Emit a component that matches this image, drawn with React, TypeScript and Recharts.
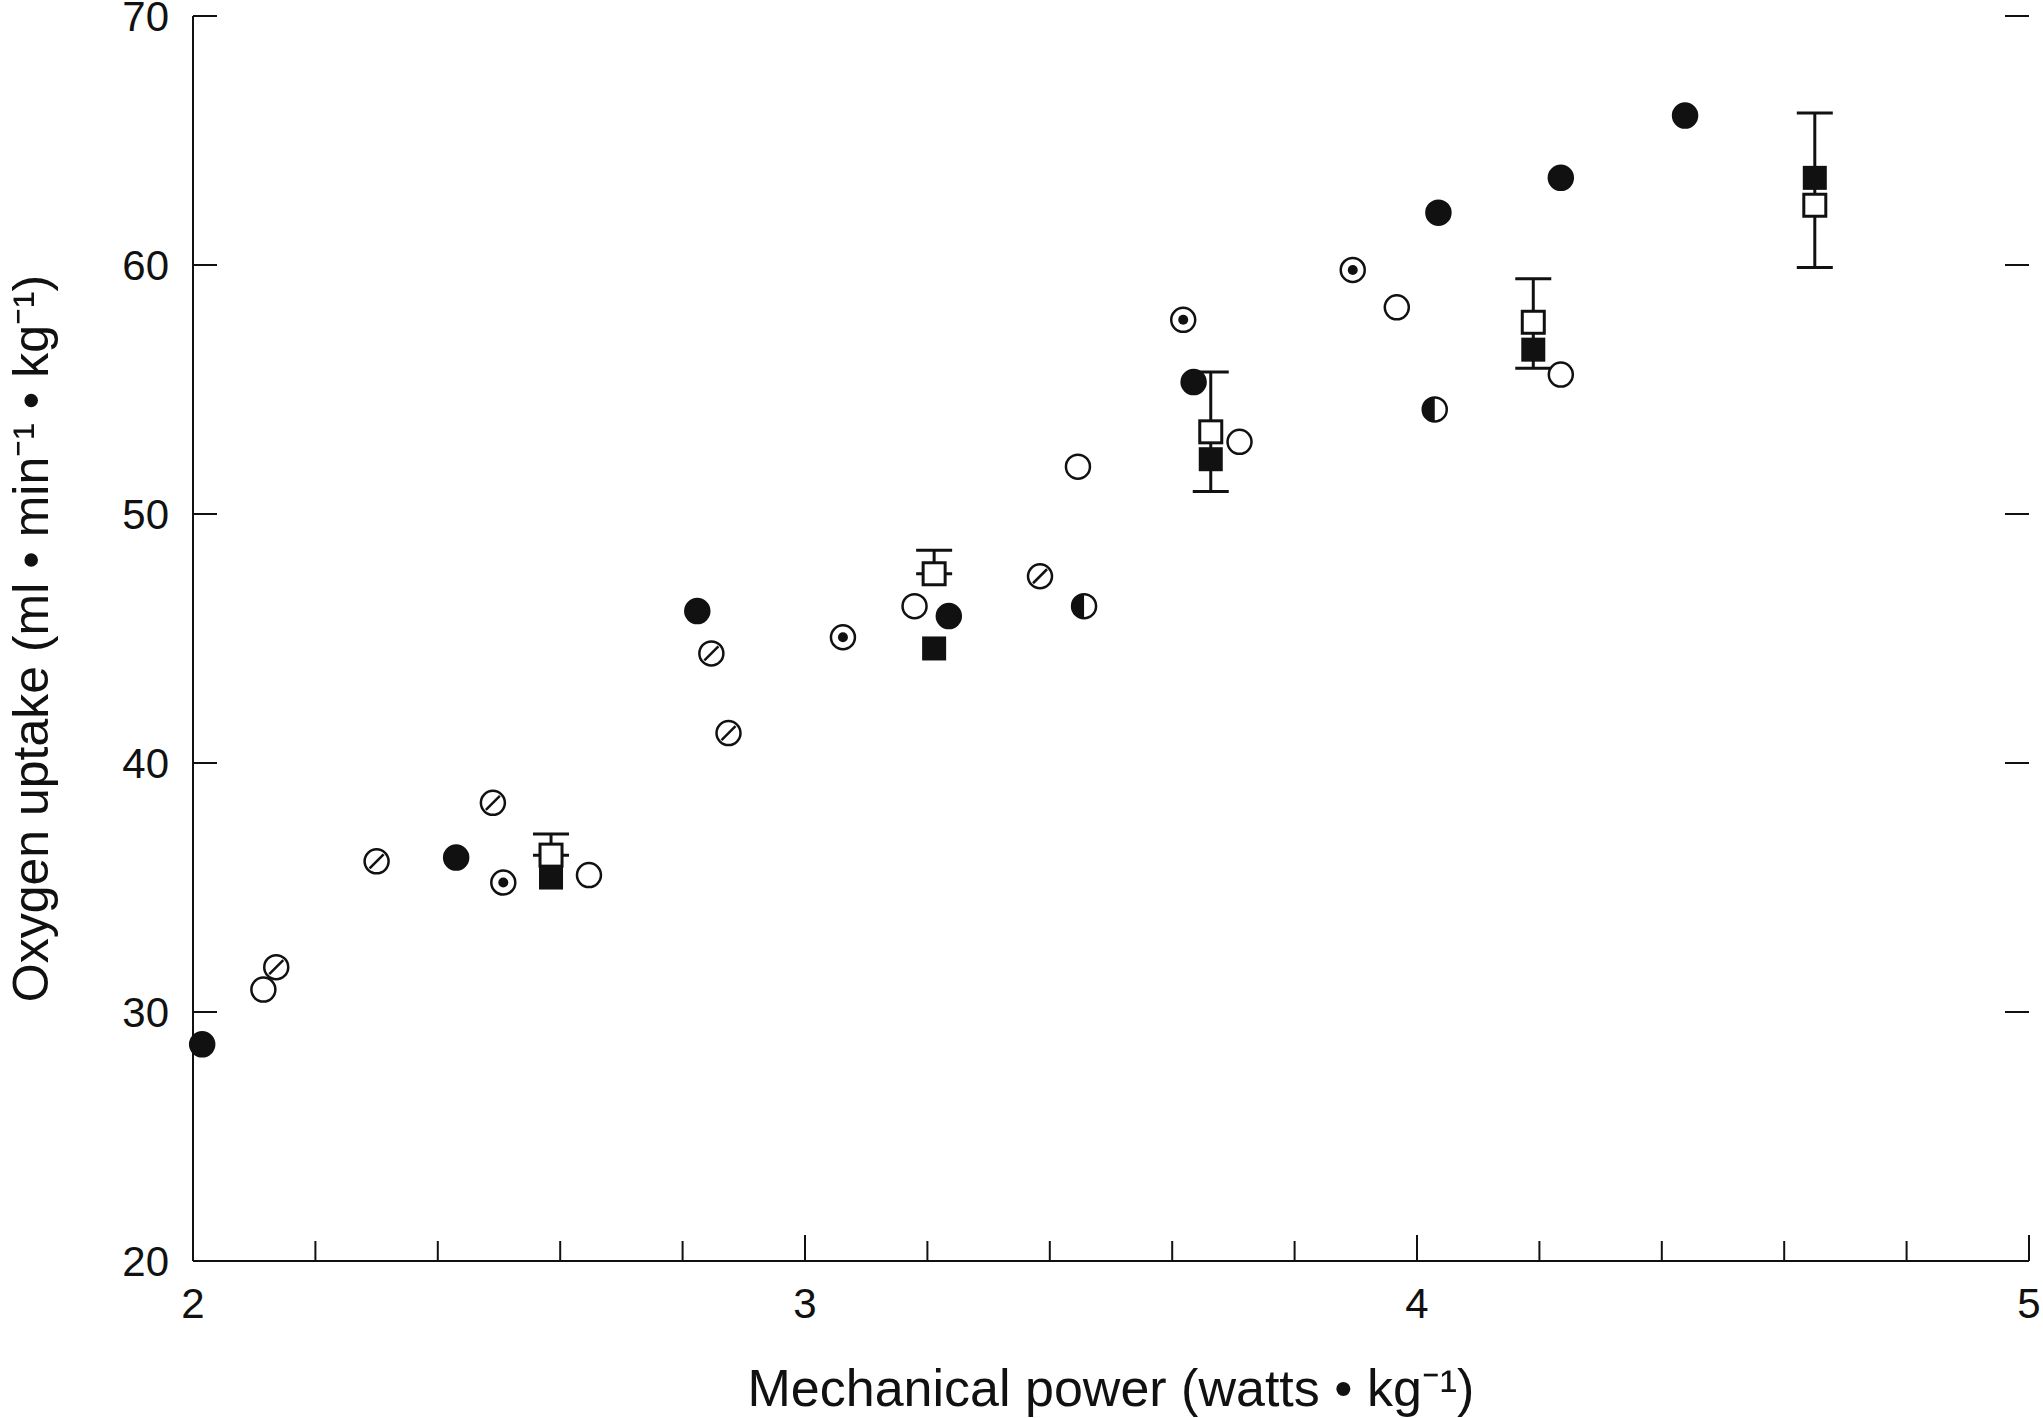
import { ScatterChart, Scatter, XAxis, YAxis, ErrorBar, Label } from "recharts";

const filledCircles = [
  { x: 2.015, y: 28.7 }, { x: 2.43, y: 36.2 }, { x: 2.824, y: 46.1 }, { x: 3.235, y: 45.9 },
  { x: 3.635, y: 55.3 }, { x: 4.035, y: 62.1 }, { x: 4.235, y: 63.5 }, { x: 4.438, y: 66.0 },
];
const openCircles = [
  { x: 2.115, y: 30.9 }, { x: 2.647, y: 35.5 }, { x: 3.179, y: 46.3 }, { x: 3.446, y: 51.9 },
  { x: 3.71, y: 52.9 }, { x: 3.967, y: 58.3 }, { x: 4.235, y: 55.6 },
];
const slashedCircles = [
  { x: 2.136, y: 31.8 }, { x: 2.3, y: 36.05 }, { x: 2.49, y: 38.4 }, { x: 2.847, y: 44.4 },
  { x: 2.875, y: 41.2 }, { x: 3.384, y: 47.5 },
];
const dottedCircles = [
  { x: 2.507, y: 35.2 }, { x: 3.062, y: 45.05 }, { x: 3.618, y: 57.8 }, { x: 3.895, y: 59.8 },
];
const halfCircles = [{ x: 3.456, y: 46.3 }, { x: 4.029, y: 54.2 }];
const filledSquares = [
  { x: 2.585, y: 35.4 }, { x: 3.211, y: 44.6 }, { x: 3.663, y: 52.2 }, { x: 4.19, y: 56.6 }, { x: 4.65, y: 63.5 },
];
const openSquares = [
  { x: 2.585, y: 36.3, err: [0, 0.85] },
  { x: 3.211, y: 47.6, err: [0, 0.94] },
  { x: 3.663, y: 53.3, err: [2.4, 2.4] },
  { x: 4.19, y: 57.7, err: [1.85, 1.75] },
  { x: 4.65, y: 62.4, err: [2.5, 3.7] },
];
const xTicks = [2, 2.2, 2.4, 2.6, 2.8, 3, 3.2, 3.4, 3.6, 3.8, 4, 4.2, 4.4, 4.6, 4.8, 5];
const yTicks = [20, 30, 40, 50, 60, 70];

const L = 193, R = 2029, T = 16, B = 1261;
const r = 12;
const font = "'Liberation Sans', Arial, sans-serif";

const FilledCircle = (p: any) => <circle cx={p.cx} cy={p.cy} r={r} fill="#111" stroke="#111" strokeWidth={2.5} />;
const OpenCircle = (p: any) => <circle cx={p.cx} cy={p.cy} r={r} fill="#fff" stroke="#111" strokeWidth={2.5} />;
const SlashCircle = (p: any) => (
  <g>
    <circle cx={p.cx} cy={p.cy} r={r} fill="#fff" stroke="#111" strokeWidth={2.5} />
    <line x1={p.cx - 7} y1={p.cy + 7} x2={p.cx + 7} y2={p.cy - 7} stroke="#111" strokeWidth={2.5} />
  </g>
);
const DotCircle = (p: any) => (
  <g>
    <circle cx={p.cx} cy={p.cy} r={r} fill="#fff" stroke="#111" strokeWidth={2.5} />
    <circle cx={p.cx} cy={p.cy} r={5} fill="#111" />
  </g>
);
const HalfCircle = (p: any) => (
  <g>
    <circle cx={p.cx} cy={p.cy} r={r} fill="#fff" stroke="#111" strokeWidth={2.5} />
    <path d={`M${p.cx},${p.cy - r} A${r},${r} 0 0,0 ${p.cx},${p.cy + r} Z`} fill="#111" />
  </g>
);
const FilledSquare = (p: any) => <rect x={p.cx - 12} y={p.cy - 12} width={24} height={24} fill="#111" />;
const OpenSquare = (p: any) => (
  <rect x={p.cx - 11} y={p.cy - 11} width={22} height={22} fill="#fff" stroke="#111" strokeWidth={3} />
);

const XTick = (p: any) => {
  const v = p.payload.value;
  const major = Number.isInteger(v);
  return (
    <g>
      <line x1={p.x} x2={p.x} y1={B} y2={B - (major ? 26 : 20)} stroke="#111" strokeWidth={2} />
      {major && (
        <text x={p.x} y={B + 57} textAnchor="middle" fontSize={42} fontFamily={font} fill="#111">
          {v}
        </text>
      )}
    </g>
  );
};
const YTick = (p: any) => (
  <g>
    <line x1={L} x2={L + 24} y1={p.y} y2={p.y} stroke="#111" strokeWidth={2} />
    <line x1={R} x2={R - 24} y1={p.y} y2={p.y} stroke="#111" strokeWidth={2} />
    <text x={L - 24} y={p.y + 15} textAnchor="end" fontSize={42} fontFamily={font} fill="#111">
      {p.payload.value}
    </text>
  </g>
);

export default function App() {
  return (
    <div style={{ position: "absolute", left: 0, top: 0, background: "#fff" }}>
      <ScatterChart width={2043} height={1418} margin={{ top: T, right: 2043 - R, bottom: 0, left: 0 }}>
        <XAxis type="number" dataKey="x" domain={[2, 5]} ticks={xTicks} interval={0} height={1418 - B}
          tick={<XTick />} tickLine={false} axisLine={{ stroke: "#111", strokeWidth: 2 }}>
          <Label value="Mechanical power (watts • kg⁻¹)" position="insideBottom" offset={12}
            style={{ fontSize: 52, fontFamily: font, fill: "#111" }} />
        </XAxis>
        <XAxis xAxisId="top" orientation="top" type="number" dataKey="x" domain={[2, 5]} height={0}
          tick={false} tickLine={false} axisLine={{ stroke: "#111", strokeWidth: 2 }} />
        <YAxis type="number" dataKey="y" domain={[20, 70]} ticks={yTicks} interval={0} width={L}
          tick={<YTick />} tickLine={false} axisLine={{ stroke: "#111", strokeWidth: 2 }}>
          <Label value="Oxygen uptake (ml • min⁻¹ • kg⁻¹)" angle={-90} position="insideLeft" offset={30}
            style={{ fontSize: 50, fontFamily: font, fill: "#111", textAnchor: "middle" }} />
        </YAxis>
        <YAxis yAxisId="right" orientation="right" type="number" dataKey="y" domain={[20, 70]}
          width={0} tick={false} tickLine={false} axisLine={{ stroke: "#111", strokeWidth: 2 }} />
        <Scatter data={openSquares} shape={<OpenSquare />} isAnimationActive={false}>
          <ErrorBar dataKey="err" direction="y" width={18} stroke="#111" strokeWidth={3} />
        </Scatter>
        <Scatter data={filledSquares} shape={<FilledSquare />} isAnimationActive={false} />
        <Scatter data={openCircles} shape={<OpenCircle />} isAnimationActive={false} />
        <Scatter data={slashedCircles} shape={<SlashCircle />} isAnimationActive={false} />
        <Scatter data={dottedCircles} shape={<DotCircle />} isAnimationActive={false} />
        <Scatter data={halfCircles} shape={<HalfCircle />} isAnimationActive={false} />
        <Scatter data={filledCircles} shape={<FilledCircle />} isAnimationActive={false} />
      </ScatterChart>
    </div>
  );
}
